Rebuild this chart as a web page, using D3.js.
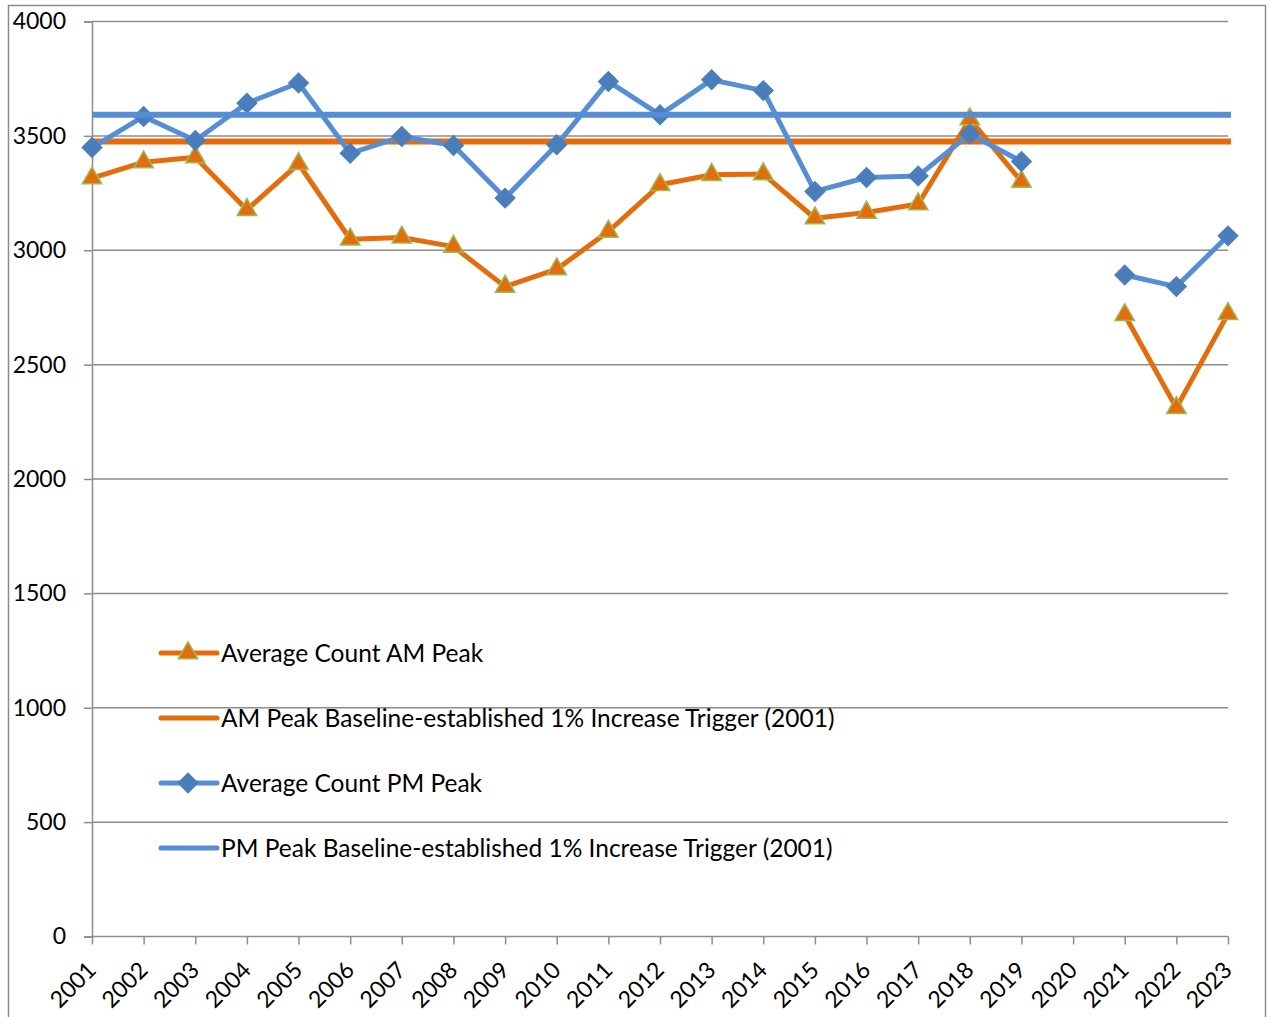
<!DOCTYPE html>
<html><head><meta charset="utf-8">
<script src="https://cdn.jsdelivr.net/npm/d3@7"></script>
<style>body{margin:0;background:#fff}svg{display:block}</style>
</head><body>
<svg id="c" width="1268" height="1017"></svg>
<script>
const years = ["2001","2002","2003","2004","2005","2006","2007","2008","2009","2010","2011","2012","2013","2014","2015","2016","2017","2018","2019","2020","2021","2022","2023"];
const amPeak = [3315,3385,3407,3177,3378,3048,3056,3016,2841,2917,3082,3286,3330,3333,3140,3165,3202,3573,3300,null,2717,2311,2722];
const pmPeak = [3449,3585,3480,3643,3731,3424,3497,3458,3228,3461,3738,3592,3745,3698,3257,3318,3325,3508,3388,null,2892,2841,3063];
const amBaseline = 3475;
const pmBaseline = 3592;
const yTicks = [0,500,1000,1500,2000,2500,3000,3500,4000];
const legendLabels = ["Average Count AM Peak","AM Peak Baseline-established 1% Increase Trigger (2001)","Average Count PM Peak","PM Peak Baseline-established 1% Increase Trigger (2001)"];

const ORANGE="#E46C0A", BLUE_LINE="#558ED5", BLUE_MARK="#4A7EBB", GREEN="#9BBB59", GRID="#8c8c8c";
const svg=d3.select("#c");
const L=92,R=1228,T=21.5,B=936.5;
const x=d3.scalePoint().domain(years).range([L,R]);
const y=d3.scaleLinear().domain([0,4000]).range([B,T]);

// outer border
svg.append("rect").attr("x",8.5).attr("y",5.5).attr("width",1257).attr("height",1030)
  .attr("fill","none").attr("stroke","#8c8c8c").attr("stroke-width",1.5);

// gridlines
svg.append("g").selectAll("line").data(yTicks.filter(d=>d>0)).join("line")
  .attr("x1",L).attr("x2",R).attr("y1",d=>y(d)).attr("y2",d=>y(d))
  .attr("stroke",GRID).attr("stroke-width",1.5);

// y axis
const ya=svg.append("g").attr("transform",`translate(${L},0)`)
  .call(d3.axisLeft(y).tickValues(yTicks).tickSize(8).tickPadding(18).tickFormat(d3.format("d")));
ya.select(".domain").attr("stroke",GRID).attr("stroke-width",1.5);
ya.selectAll(".tick line").attr("stroke",GRID).attr("stroke-width",1.5);
ya.selectAll("text").attr("font-family","Lato").attr("font-size",23).attr("fill","#000");

// x axis
const xa=svg.append("g").attr("transform",`translate(0,${B})`)
  .call(d3.axisBottom(x).tickSize(8).tickPadding(6).tickSizeOuter(0));
xa.select(".domain").attr("stroke",GRID).attr("stroke-width",1.5).attr("d",`M${L},0H${R}`);
xa.selectAll(".tick line").attr("stroke",GRID).attr("stroke-width",1.5);
xa.selectAll("text").attr("font-family","Lato").attr("font-size",23).attr("fill","#000")
  .attr("text-anchor","end").attr("dy",0).attr("y",0)
  .attr("transform","translate(5,35) rotate(-45)");

const line=d3.line().defined(d=>d.v!=null).x(d=>x(d.k)).y(d=>y(d.v));
const amData=years.map((k,i)=>({k,v:amPeak[i]}));
const pmData=years.map((k,i)=>({k,v:pmPeak[i]}));

const tri=d3.symbol().type(d3.symbolTriangle).size(165);
const dia=d3.symbol().type(d3.symbolSquare).size(200);

// AM series
svg.append("path").datum(amData).attr("d",line).attr("fill","none").attr("stroke",ORANGE).attr("stroke-width",5).attr("stroke-linejoin","round");
svg.append("g").selectAll("path").data(amData.filter(d=>d.v!=null)).join("path")
  .attr("d",tri).attr("transform",d=>`translate(${x(d.k)},${y(d.v)})`)
  .attr("fill",ORANGE).attr("stroke",GREEN).attr("stroke-width",1.5);
// AM baseline
svg.append("line").attr("x1",L).attr("x2",R+3).attr("y1",y(amBaseline)).attr("y2",y(amBaseline)).attr("stroke",ORANGE).attr("stroke-width",6);
// PM series
svg.append("path").datum(pmData).attr("d",line).attr("fill","none").attr("stroke",BLUE_LINE).attr("stroke-width",5).attr("stroke-linejoin","round");
svg.append("g").selectAll("path").data(pmData.filter(d=>d.v!=null)).join("path")
  .attr("d",dia).attr("transform",d=>`translate(${x(d.k)},${y(d.v)}) rotate(45)`)
  .attr("fill",BLUE_MARK).attr("stroke",BLUE_MARK).attr("stroke-width",1);
// PM baseline
svg.append("line").attr("x1",L).attr("x2",R+3).attr("y1",y(pmBaseline)).attr("y2",y(pmBaseline)).attr("stroke",BLUE_LINE).attr("stroke-width",6);

// legend
const lg=svg.append("g");
const rows=[653,718,783,848];
const lcol=[ORANGE,ORANGE,BLUE_LINE,BLUE_LINE];
legendLabels.forEach((t,i)=>{
  const g=lg.append("g").attr("transform",`translate(0,${rows[i]})`);
  g.append("line").attr("x1",161).attr("x2",217).attr("y1",0).attr("y2",0).attr("stroke",lcol[i]).attr("stroke-width",5).attr("stroke-linecap","round");
  if(i===0) g.append("path").attr("d",tri).attr("transform","translate(188,0)").attr("fill",ORANGE).attr("stroke",GREEN).attr("stroke-width",1.5);
  if(i===2) g.append("path").attr("d",dia).attr("transform","translate(188,0) rotate(45)").attr("fill",BLUE_MARK).attr("stroke",BLUE_MARK);
  g.append("text").attr("x",221).attr("y",0).attr("dy","0.35em").attr("font-family","Lato").attr("font-size",24.5).attr("fill","#000").text(t);
});
</script>
</body></html>
